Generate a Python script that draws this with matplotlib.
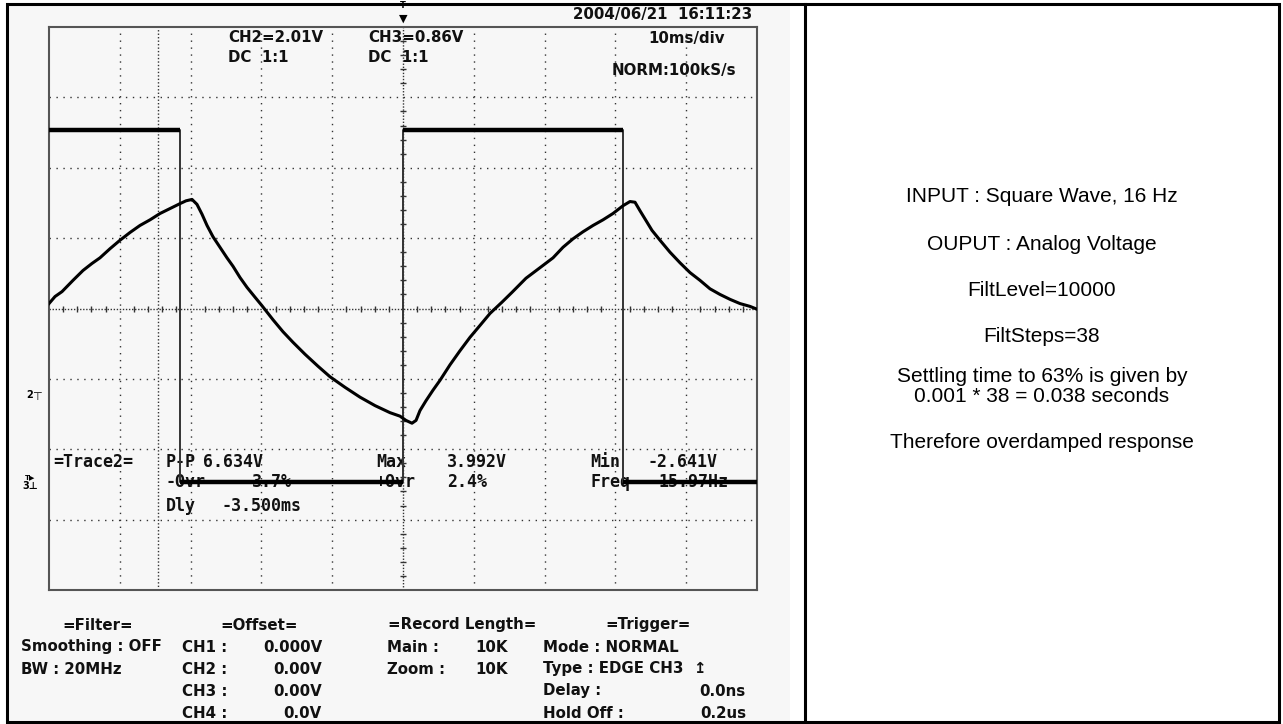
import matplotlib
matplotlib.use("Agg")
import matplotlib.pyplot as plt
from matplotlib.patches import Rectangle

W, H = 1283, 724
DPI = 100

# scope settings: 10 ms/div with trigger at screen centre, amplitude in screen divisions
time_range_ms = (-50, 50)
div_range = (-4, 4)
grid_t_ms = [-40, -30, -20, -10, 10, 20, 30, 40]
grid_div = [-3, -2, -1, 1, 2, 3]
cursor_t_ms = -34.6

# CH3: square wave input (edges and levels)
ch3_edges_ms = [-31.5, 0.0, 31.1]
ch3_start_high = True
ch3_high_div = 2.53
ch3_low_div = -2.46

# CH2: filtered analog output
ch2_t_ms = [-50.0, -49.15, -48.16, -46.61, -45.20, -43.93, -42.80, -41.38, -39.97, -38.56,
            -37.15, -35.73, -34.32, -32.91, -31.50, -30.65, -29.80, -29.10, -28.39, -27.68,
            -26.84, -25.85, -24.86, -24.01, -23.02, -22.03, -20.90, -19.92, -18.36, -16.95,
            -15.54, -13.84, -12.01, -10.31, -8.19, -6.07, -3.95, -1.84, -0.42, 0.42,
            1.27, 1.84, 2.40, 3.25, 4.24, 5.23, 6.64, 8.05, 9.46, 10.88,
            12.29, 13.98, 15.40, 17.37, 19.35, 21.19, 22.60, 24.01, 25.42, 26.84,
            28.25, 29.66, 31.07, 32.06, 32.77, 33.47, 34.32, 35.17, 36.30, 37.71,
            39.12, 40.54, 41.95, 43.36, 44.77, 46.19, 47.60, 49.01, 50.0]
ch2_div = [0.07, 0.17, 0.24, 0.40, 0.54, 0.64, 0.72, 0.85, 0.97, 1.08,
           1.18, 1.26, 1.35, 1.42, 1.49, 1.53, 1.55, 1.48, 1.34, 1.18,
           1.02, 0.87, 0.72, 0.60, 0.44, 0.30, 0.16, 0.04, -0.16, -0.33,
           -0.48, -0.65, -0.82, -0.97, -1.12, -1.26, -1.38, -1.48, -1.53, -1.59,
           -1.63, -1.59, -1.45, -1.31, -1.16, -1.02, -0.80, -0.60, -0.41, -0.24,
           -0.07, 0.09, 0.23, 0.43, 0.58, 0.72, 0.87, 0.99, 1.09, 1.18,
           1.26, 1.35, 1.46, 1.52, 1.51, 1.39, 1.25, 1.11, 0.97, 0.80,
           0.65, 0.51, 0.40, 0.28, 0.20, 0.13, 0.07, 0.03, -0.01]

header_labels = [("2004/06/21  16:11:23", 573, 15), ("CH2=2.01V", 228, 38), ("DC  1:1", 228, 58),
                 ("CH3=0.86V", 368, 38), ("DC  1:1", 368, 58), ("10ms/div", 648, 38),
                 ("NORM:100kS/s", 612, 71)]
trace_labels = [("=Trace2=", 53, 462), ("P-P", 166, 462), ("6.634V", 203, 462),
                ("Max", 376, 462), ("3.992V", 447, 462), ("Min", 590, 462), ("-2.641V", 647, 462),
                ("-Ovr", 166, 482), ("3.7%", 252, 482), ("+Ovr", 376, 482), ("2.4%", 447, 482),
                ("Freq", 590, 482), ("15.97Hz", 658, 482), ("Dly", 166, 506), ("-3.500ms", 222, 506)]
footer_left = [("=Filter=", 62, 625), ("=Offset=", 220, 625), ("=Record Length=", 388, 625),
               ("=Trigger=", 605, 625),
               ("Smoothing : OFF", 21, 647), ("CH1 :", 182, 647), ("Main :", 387, 647),
               ("10K", 475, 647), ("Mode : NORMAL", 543, 647),
               ("BW : 20MHz", 21, 669), ("CH2 :", 182, 669), ("Zoom :", 387, 669),
               ("10K", 475, 669), ("Type : EDGE CH3  \u21a5", 543, 669),
               ("CH3 :", 182, 691), ("Delay :", 543, 691),
               ("CH4 :", 182, 713), ("Hold Off :", 543, 713)]
footer_right = [("0.000V", 322, 647), ("0.00V", 322, 669), ("0.00V", 322, 691),
                ("0.0V", 322, 713), ("0.0ns", 746, 691), ("0.2us", 746, 713)]
notes = ["INPUT : Square Wave, 16 Hz", "OUPUT : Analog Voltage", "FiltLevel=10000",
         "FiltSteps=38", "Settling time to 63% is given by", "0.001 * 38 = 0.038 seconds",
         "Therefore overdamped response"]
notes_y = [197, 244, 290, 337, 376, 397, 442]

fig = plt.figure(figsize=(W / DPI, H / DPI), dpi=DPI)

# page / table layer in pixel coordinates
bg = fig.add_axes([0, 0, 1, 1])
bg.set_xlim(0, W)
bg.set_ylim(H, 0)
bg.axis("off")
bg.add_patch(Rectangle((8, 5), 782, 716, facecolor="#f7f7f7", edgecolor="none"))
bg.add_patch(Rectangle((7, 4), 1272, 718, facecolor="none", edgecolor="black", lw=2.2))
bg.plot([805, 805], [4, 722], color="black", lw=2.2)

scope_font = dict(family="DejaVu Sans", weight="bold", fontsize=10.8, color="#111")
mono_font = dict(family="DejaVu Sans Mono", weight="bold", fontsize=12, color="#111")
for s, x, y in header_labels:
    bg.text(x, y, s, ha="left", va="center", **scope_font)
for s, x, y in trace_labels:
    bg.text(x, y, s, ha="left", va="center", **mono_font)
for s, x, y in footer_left:
    bg.text(x, y, s, ha="left", va="center", **scope_font)
for s, x, y in footer_right:
    bg.text(x, y, s, ha="right", va="center", **scope_font)
for s, y in zip(notes, notes_y):
    bg.text(1042, y, s, ha="center", va="center", family="Liberation Sans", fontsize=15, color="black")

# channel markers at the left of the screen and trigger marker on top
bg.text(30, 395, "2", ha="center", va="center", fontsize=7, weight="bold")
bg.text(37, 397, "\u22a4", ha="center", va="center", fontsize=8)
bg.text(30, 480, "T\u25b6", ha="center", va="bottom", fontsize=5, weight="bold")
bg.text(30, 486, "3\u22a5", ha="center", va="center", fontsize=7, weight="bold")
bg.text(403, 6, "T", ha="center", va="center", fontsize=6, weight="bold")
bg.text(403, 19, "\u25bc", ha="center", va="center", fontsize=8)

# oscilloscope screen
x0, y0, x1, y1 = 49, 27, 757, 590
ax = fig.add_axes([x0 / W, 1 - y1 / H, (x1 - x0) / W, (y1 - y0) / H])
ax.set_facecolor("none")
ax.set_xlim(*time_range_ms)
ax.set_ylim(*div_range)
ax.set_xticks([])
ax.set_yticks([])
for sp in ax.spines.values():
    sp.set_color("#555")
    sp.set_linewidth(1.5)

for t in grid_t_ms:
    ax.axvline(t, ls=(0, (1, 4)), lw=1.0, color="#333")
for d in grid_div:
    ax.axhline(d, ls=(0, (1, 4)), lw=1.0, color="#333")
ax.axvline(0, ls=(0, (1, 1.2)), lw=1.0, color="#333")
ax.axhline(0, ls=(0, (1, 1.2)), lw=1.0, color="#333")
ax.axvline(cursor_t_ms, ls=(0, (1, 1.5)), lw=1.0, color="#333")
minor_t = [t / 5 for t in range(-250, 251, 10) if t % 50]
minor_d = [d / 5 for d in range(-20, 21) if d % 5]
ax.plot(minor_t, [0] * len(minor_t), ls="none", marker="|", ms=5, mew=1.0, color="#333")
ax.plot([0] * len(minor_d), minor_d, ls="none", marker="_", ms=5, mew=1.0, color="#333")

# CH3 square wave: thin edges, heavy flat levels
levels = [ch3_high_div, ch3_low_div]
bounds = [time_range_ms[0]] + ch3_edges_ms + [time_range_ms[1]]
st_t, st_v = [], []
for i in range(len(bounds) - 1):
    lvl = levels[(i + (0 if ch3_start_high else 1)) % 2]
    st_t += [bounds[i], bounds[i + 1]]
    st_v += [lvl, lvl]
    ax.hlines(lvl, bounds[i], bounds[i + 1], color="black", lw=3.2, zorder=4)
ax.plot(st_t, st_v, color="#333", lw=1.4, zorder=3)

# CH2 analog response
ax.plot(ch2_t_ms, ch2_div, color="black", lw=2.2, zorder=5)

fig.savefig("out.png", dpi=DPI)
